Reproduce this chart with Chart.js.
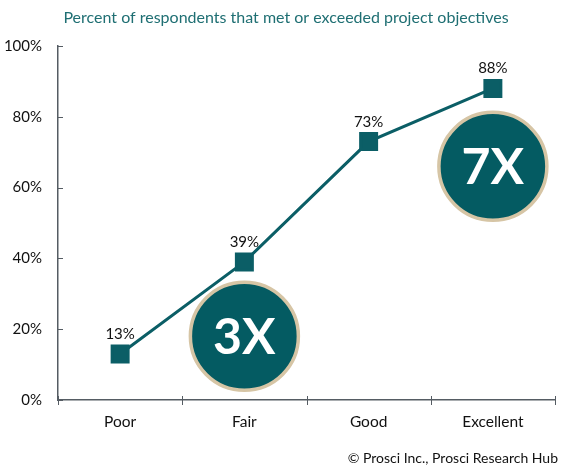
<!DOCTYPE html>
<html><head><meta charset="utf-8">
<script src="https://cdn.jsdelivr.net/npm/chart.js@4"></script>
<style>html,body{margin:0;padding:0;background:#fff}#w{width:583px;height:475px}</style>
</head><body><div id="w"><canvas id="c"></canvas></div>
<script>
const categories = ['Poor', 'Fair', 'Good', 'Excellent'];
const values = [13, 39, 73, 88];
const yTicks = [0, 20, 40, 60, 80, 100];
const badgeLabels = ['3X', '7X'];
const badgeCategories = ['Fair', 'Excellent'];
const badgeYValues = [18, 66];
const titleText = 'Percent of respondents that met or exceeded project objectives';
const sourceText = '© Prosci Inc., Prosci Research Hub';

const TEAL = '#0B5E66';
const AXIS = '#555c63';
const FONT = 'Lato, "Open Sans", sans-serif';

const extras = {
  id: 'extras',
  beforeDatasetsDraw(chart) {
    const ctx = chart.ctx;
    const xs = chart.scales.x, ys = chart.scales.y;
    ctx.save();
    ctx.strokeStyle = AXIS;
    ctx.lineWidth = 1;
    yTicks.forEach(v => {
      const y = Math.round(ys.getPixelForValue(v)) + 0.5;
      ctx.beginPath();
      ctx.moveTo(xs.left, y);
      ctx.lineTo(xs.left + 5, y);
      ctx.stroke();
    });
    const yb = ys.bottom;
    for (let i = 0; i <= categories.length; i++) {
      const bx = Math.round(xs.left + (xs.right - xs.left) * i / categories.length) + 0.5;
      ctx.beginPath();
      ctx.moveTo(bx, yb - 4);
      ctx.lineTo(bx, yb + 5);
      ctx.stroke();
    }
    // title
    ctx.fillStyle = '#1F6F73';
    ctx.font = '16px ' + FONT;
    ctx.textAlign = 'center';
    ctx.textBaseline = 'middle';
    ctx.fillText(titleText, 286, 18);
    // source
    ctx.fillStyle = '#111';
    ctx.font = '14px ' + FONT;
    ctx.textAlign = 'right';
    ctx.fillText(sourceText, 558, 458);
    ctx.restore();
  },
  afterDatasetsDraw(chart) {
    const ctx = chart.ctx;
    const xs = chart.scales.x, ys = chart.scales.y;
    badgeLabels.forEach((lab, i) => {
      const cx = xs.getPixelForValue(categories.indexOf(badgeCategories[i]));
      const cy = ys.getPixelForValue(badgeYValues[i]);
      const r = 54;
      ctx.save();
      ctx.beginPath();
      ctx.arc(cx, cy, r, 0, Math.PI * 2);
      ctx.fillStyle = '#045B62';
      ctx.fill();
      ctx.lineWidth = 3.5;
      ctx.strokeStyle = '#D6C5A5';
      ctx.stroke();
      ctx.fillStyle = '#fff';
      ctx.font = 'bold 50px ' + FONT;
      ctx.textAlign = 'center';
      ctx.textBaseline = 'middle';
      ctx.fillText(lab, cx, cy + 2);
      ctx.restore();
    });
    const meta = chart.getDatasetMeta(0);
    ctx.save();
    ctx.fillStyle = '#111';
    ctx.font = '15px ' + FONT;
    ctx.textAlign = 'center';
    ctx.textBaseline = 'alphabetic';
    meta.data.forEach((pt, i) => {
      ctx.fillText(values[i] + '%', pt.x, pt.y - 15);
    });
    ctx.restore();
  }
};

new Chart(document.getElementById('c'), {
  type: 'line',
  data: {
    labels: categories,
    datasets: [{
      data: values,
      borderColor: TEAL,
      backgroundColor: TEAL,
      borderWidth: 3,
      pointStyle: 'rect',
      pointRadius: 11.3,
      pointHoverRadius: 11.3,
      tension: 0
    }]
  },
  options: {
    responsive: true,
    maintainAspectRatio: false,
    animation: false,
    events: [],
    layout: { padding: { left: 4, right: 28, top: 46, bottom: 43 } },
    plugins: {
      legend: { display: false },
      tooltip: { enabled: false },
      title: { display: false }
    },
    scales: {
      x: {
        offset: true,
        grid: { display: false, drawTicks: false },
        border: { display: true, color: AXIS, width: 1.5 },
        ticks: { color: '#111', font: { family: FONT, size: 15.5 }, padding: 13 },
        afterFit(s) { s.height = 32; }
      },
      y: {
        min: 0,
        max: 100,
        afterBuildTicks(axis) { axis.ticks = yTicks.map(v => ({ value: v })); },
        grid: { display: false, drawTicks: false },
        border: { display: true, color: AXIS, width: 1.5 },
        ticks: { color: '#111', font: { family: FONT, size: 15 }, padding: 16, callback: v => v + '%' },
        afterFit(s) { s.width = 54; }
      }
    }
  },
  plugins: [extras]
});
</script>
</body></html>
